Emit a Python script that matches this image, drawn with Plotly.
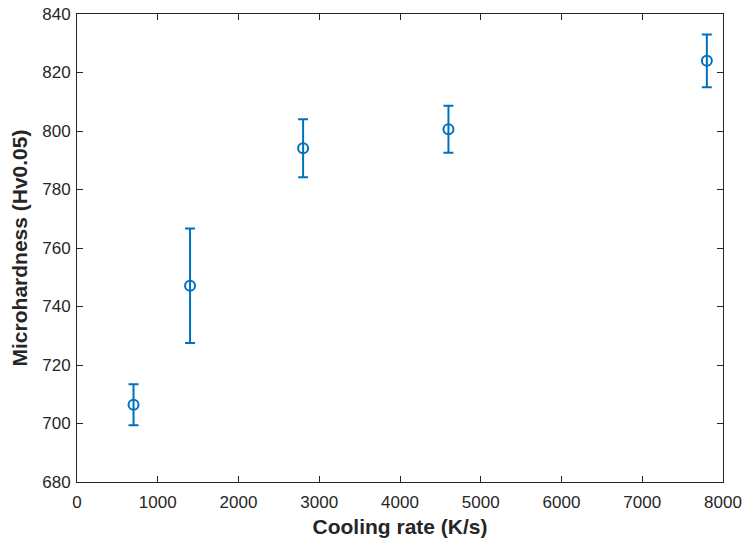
import plotly.graph_objects as go

cooling_rate = [700, 1400, 2800, 4600, 7800]
hardness = [706.4, 747.1, 794.1, 800.6, 824.0]
err_plus = [7.0, 19.6, 9.9, 8.0, 9.0]
err_minus = [7.0, 19.6, 9.9, 8.0, 9.0]

x_ticks = [0, 1000, 2000, 3000, 4000, 5000, 6000, 7000, 8000]
y_ticks = [680, 700, 720, 740, 760, 780, 800, 820, 840]

blue = "#0072BD"
dark = "#262626"
font_family = "Liberation Sans, Arial, sans-serif"

fig = go.Figure(go.Scatter(
    x=cooling_rate, y=hardness, mode="markers",
    marker=dict(symbol="circle-open", size=10, color=blue, line=dict(width=2, color=blue)),
    error_y=dict(type="data", array=err_plus, arrayminus=err_minus, symmetric=False,
                 color=blue, thickness=2, width=5),
    showlegend=False,
    cliponaxis=False,
))

axis_common = dict(showgrid=False, zeroline=False, showline=True, mirror="ticks",
                   linecolor=dark, linewidth=1, ticks="inside", ticklen=6,
                   tickcolor=dark, tickwidth=1, automargin=False,
                   tickfont=dict(family=font_family, size=17, color=dark))

fig.update_layout(
    template="none",
    width=746, height=543,
    margin=dict(l=77, r=23, t=14, b=61, autoexpand=False),
    paper_bgcolor="white", plot_bgcolor="white",
    xaxis=dict(range=[0, 8000], tickvals=x_ticks, ticklabelstandoff=5,
               title=dict(text="<b>Cooling rate (K/s)</b>", standoff=7,
                          font=dict(family=font_family, size=21, color=dark)),
               **axis_common),
    yaxis=dict(range=[680, 840], tickvals=y_ticks, ticklabelstandoff=2,
               title=dict(text="<b>Microhardness (Hv0.05)</b>", standoff=8,
                          font=dict(family=font_family, size=21, color=dark)),
               **axis_common),
)

# remove the browser's default 8px body margin so the figure fills the window
fig.write_html("out.html", config={"displayModeBar": False},
               post_script="document.body.style.margin='0';")
